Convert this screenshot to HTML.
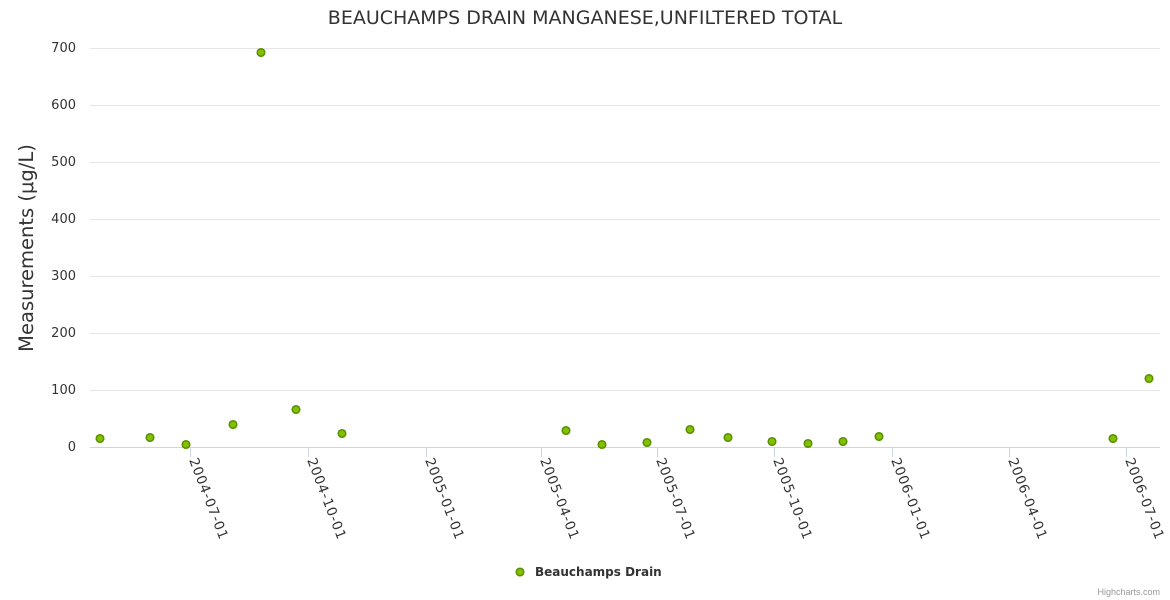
<!DOCTYPE html>
<html><head><style>body{margin:0;background:#fff}svg{display:block;font-family:"Liberation Sans",sans-serif}</style></head><body>
<svg width="1170" height="600" xmlns="http://www.w3.org/2000/svg">
<text x="585" y="24" text-anchor="middle" font-size="19" fill="#333" font-family="DejaVu Sans, sans-serif">BEAUCHAMPS DRAIN MANGANESE,UNFILTERED TOTAL</text>
<g stroke="#e6e6e6" stroke-width="1">
<line x1="90" x2="1160" y1="48.5" y2="48.5"/><line x1="90" x2="1160" y1="105.5" y2="105.5"/><line x1="90" x2="1160" y1="162.5" y2="162.5"/><line x1="90" x2="1160" y1="219.5" y2="219.5"/><line x1="90" x2="1160" y1="276.5" y2="276.5"/><line x1="90" x2="1160" y1="333.5" y2="333.5"/><line x1="90" x2="1160" y1="390.5" y2="390.5"/>
</g>
<line x1="90" x2="1160" y1="447.5" y2="447.5" stroke="#ccd6eb"/>
<g fill="#333" font-size="13" text-anchor="end" font-family="DejaVu Sans, sans-serif">
<text x="76" y="52">700</text><text x="76" y="109">600</text><text x="76" y="166">500</text><text x="76" y="223">400</text><text x="76" y="280">300</text><text x="76" y="337">200</text><text x="76" y="394">100</text><text x="76" y="451">0</text>
</g>
<text transform="translate(33,248) rotate(-90)" text-anchor="middle" font-size="19.5" fill="#333" font-family="DejaVu Sans, sans-serif">Measurements (μg/L)</text>
<g stroke="#ccd6eb">
<line x1="190.5" x2="190.5" y1="447" y2="457"/><line x1="308.5" x2="308.5" y1="447" y2="457"/><line x1="426.5" x2="426.5" y1="447" y2="457"/><line x1="541.5" x2="541.5" y1="447" y2="457"/><line x1="657.5" x2="657.5" y1="447" y2="457"/><line x1="774.5" x2="774.5" y1="447" y2="457"/><line x1="892.5" x2="892.5" y1="447" y2="457"/><line x1="1009.5" x2="1009.5" y1="447" y2="457"/><line x1="1126.5" x2="1126.5" y1="447" y2="457"/>
</g>
<g fill="#333" font-size="13.5" font-family="DejaVu Sans, sans-serif" letter-spacing="0.8">
<text transform="translate(189,460) rotate(69)">2004-07-01</text>
<text transform="translate(307,460) rotate(69)">2004-10-01</text>
<text transform="translate(425,460) rotate(69)">2005-01-01</text>
<text transform="translate(540,460) rotate(69)">2005-04-01</text>
<text transform="translate(656,460) rotate(69)">2005-07-01</text>
<text transform="translate(773,460) rotate(69)">2005-10-01</text>
<text transform="translate(891,460) rotate(69)">2006-01-01</text>
<text transform="translate(1008,460) rotate(69)">2006-04-01</text>
<text transform="translate(1125,460) rotate(69)">2006-07-01</text>
</g>
<g fill="#82c000" stroke="#5a8f00" stroke-width="1.5">
<circle cx="100" cy="438.5" r="3.8"/><circle cx="150" cy="437.5" r="3.8"/><circle cx="186" cy="444.5" r="3.8"/><circle cx="233" cy="424.5" r="3.8"/><circle cx="261" cy="52.5" r="3.8"/><circle cx="296" cy="409.5" r="3.8"/><circle cx="342" cy="433.5" r="3.8"/><circle cx="566" cy="430.5" r="3.8"/><circle cx="602" cy="444.5" r="3.8"/><circle cx="647" cy="442.5" r="3.8"/><circle cx="690" cy="429.5" r="3.8"/><circle cx="728" cy="437.5" r="3.8"/><circle cx="772" cy="441.5" r="3.8"/><circle cx="808" cy="443.5" r="3.8"/><circle cx="843" cy="441.5" r="3.8"/><circle cx="879" cy="436.5" r="3.8"/><circle cx="1113" cy="438.5" r="3.8"/><circle cx="1149" cy="378.5" r="3.8"/>
<circle cx="520" cy="572" r="3.8"/>
</g>
<text x="535" y="576" font-size="12" font-weight="bold" fill="#333" font-family="DejaVu Sans, sans-serif">Beauchamps Drain</text>
<text x="1160" y="595" text-anchor="end" font-size="9" fill="#999">Highcharts.com</text>
</svg>
</body></html>
